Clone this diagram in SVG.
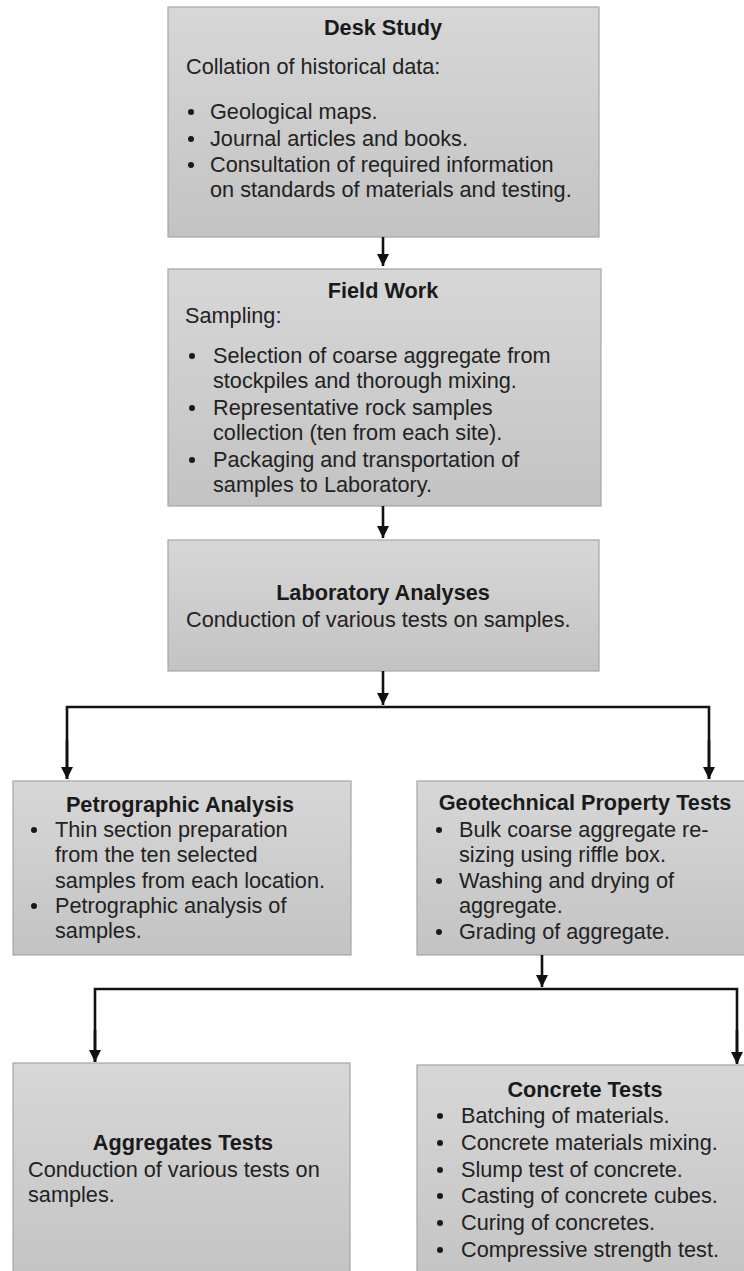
<svg xmlns="http://www.w3.org/2000/svg" width="744" height="1271" viewBox="0 0 744 1271">
<style>
  .box { fill: url(#g); stroke: #a6a6a6; stroke-width: 1.2; }
  .t { font-family: "Liberation Sans", Arial, sans-serif; font-size: 21.7px; fill: #222; }
  .h { font-family: "Liberation Sans", Arial, sans-serif; font-size: 21.7px; font-weight: bold; fill: #1a1a1a; text-anchor: middle; }
  .dot { fill: #1a1a1a; }
  .c { fill: none; stroke: #111; stroke-width: 2.6; }
</style>
<defs>
  <linearGradient id="g" x1="0" y1="0" x2="0" y2="1">
    <stop offset="0" stop-color="#d7d7d7"/>
    <stop offset="1" stop-color="#c3c3c3"/>
  </linearGradient>
  <marker id="ah" viewBox="0 0 10 10" refX="10" refY="5" markerWidth="4.8" markerHeight="4.8" orient="auto" markerUnits="strokeWidth">
    <path d="M0,0 L10,5 L0,10 z" fill="#111"/>
  </marker>
</defs>
<rect width="744" height="1271" fill="#fff"/>

<g id="desk-study">
  <rect class="box" x="168" y="7" width="431" height="230"/>
  <text class="h" x="383" y="35">Desk Study</text>
  <text class="t" x="186" y="74">Collation of historical data:</text>
  <circle class="dot" cx="191" cy="112" r="3"/>
  <text class="t" x="210" y="119">Geological maps.</text>
  <circle class="dot" cx="191" cy="139" r="3"/>
  <text class="t" x="210" y="146">Journal articles and books.</text>
  <circle class="dot" cx="191" cy="165" r="3"/>
  <text class="t" x="210" y="172">Consultation of required information</text>
  <text class="t" x="210" y="197">on standards of materials and testing.</text>
</g>

<g id="field-work">
  <rect class="box" x="168" y="269" width="433" height="237"/>
  <text class="h" x="383" y="298">Field Work</text>
  <text class="t" x="185" y="323">Sampling:</text>
  <circle class="dot" cx="192" cy="356" r="3"/>
  <text class="t" x="213" y="363">Selection of coarse aggregate from</text>
  <text class="t" x="213" y="388">stockpiles and thorough mixing.</text>
  <circle class="dot" cx="192" cy="408" r="3"/>
  <text class="t" x="213" y="415">Representative rock samples</text>
  <text class="t" x="213" y="440">collection (ten from each site).</text>
  <circle class="dot" cx="192" cy="460" r="3"/>
  <text class="t" x="213" y="467">Packaging and transportation of</text>
  <text class="t" x="213" y="492">samples to Laboratory.</text>
</g>

<g id="laboratory-analyses">
  <rect class="box" x="168" y="540" width="431" height="131"/>
  <text class="h" x="383" y="600">Laboratory Analyses</text>
  <text class="t" x="186" y="627">Conduction of various tests on samples.</text>
</g>

<g id="petrographic-analysis">
  <rect class="box" x="13" y="781" width="338" height="174"/>
  <text class="h" x="180" y="812">Petrographic Analysis</text>
  <circle class="dot" cx="34" cy="830" r="3"/>
  <text class="t" x="55" y="837">Thin section preparation</text>
  <text class="t" x="55" y="862">from the ten selected</text>
  <text class="t" x="55" y="888">samples from each location.</text>
  <circle class="dot" cx="34" cy="906" r="3"/>
  <text class="t" x="55" y="913">Petrographic analysis of</text>
  <text class="t" x="55" y="938">samples.</text>
</g>

<g id="geotechnical-property-tests">
  <rect class="box" x="417" y="781" width="330" height="174"/>
  <text class="h" x="585" y="810">Geotechnical Property Tests</text>
  <circle class="dot" cx="439" cy="830" r="3"/>
  <text class="t" x="459" y="837">Bulk coarse aggregate re-</text>
  <text class="t" x="459" y="862">sizing using riffle box.</text>
  <circle class="dot" cx="439" cy="881" r="3"/>
  <text class="t" x="459" y="888">Washing and drying of</text>
  <text class="t" x="459" y="913">aggregate.</text>
  <circle class="dot" cx="439" cy="932" r="3"/>
  <text class="t" x="459" y="939">Grading of aggregate.</text>
</g>

<g id="aggregates-tests">
  <rect class="box" x="13" y="1063" width="337" height="220"/>
  <text class="h" x="183" y="1150">Aggregates Tests</text>
  <text class="t" x="28" y="1177">Conduction of various tests on</text>
  <text class="t" x="28" y="1202">samples.</text>
</g>

<g id="concrete-tests">
  <rect class="box" x="417" y="1065" width="330" height="220"/>
  <text class="h" x="585" y="1097">Concrete Tests</text>
  <circle class="dot" cx="440" cy="1116" r="3"/>
  <text class="t" x="461" y="1123">Batching of materials.</text>
  <circle class="dot" cx="440" cy="1143" r="3"/>
  <text class="t" x="461" y="1150">Concrete materials mixing.</text>
  <circle class="dot" cx="440" cy="1170" r="3"/>
  <text class="t" x="461" y="1177">Slump test of concrete.</text>
  <circle class="dot" cx="440" cy="1196" r="3"/>
  <text class="t" x="461" y="1203">Casting of concrete cubes.</text>
  <circle class="dot" cx="440" cy="1223" r="3"/>
  <text class="t" x="461" y="1230">Curing of concretes.</text>
  <circle class="dot" cx="440" cy="1250" r="3"/>
  <text class="t" x="461" y="1257">Compressive strength test.</text>
</g>

<g id="connectors">
  <line class="c" x1="383" y1="237" x2="383" y2="266" marker-end="url(#ah)"/>
  <line class="c" x1="383" y1="506" x2="383" y2="538" marker-end="url(#ah)"/>
  <line class="c" x1="383" y1="671" x2="383" y2="705" marker-end="url(#ah)"/>
  <polyline class="c" points="67,779 67,707 709,707 709,779"/>
  <line class="c" x1="67" y1="740" x2="67" y2="779" marker-end="url(#ah)"/>
  <line class="c" x1="709" y1="740" x2="709" y2="779" marker-end="url(#ah)"/>
  <line class="c" x1="542" y1="955" x2="542" y2="987" marker-end="url(#ah)"/>
  <polyline class="c" points="95,1062 95,989 737,989 737,1063"/>
  <line class="c" x1="95" y1="1030" x2="95" y2="1062" marker-end="url(#ah)"/>
  <line class="c" x1="737" y1="1030" x2="737" y2="1064" marker-end="url(#ah)"/>
</g>
</svg>
